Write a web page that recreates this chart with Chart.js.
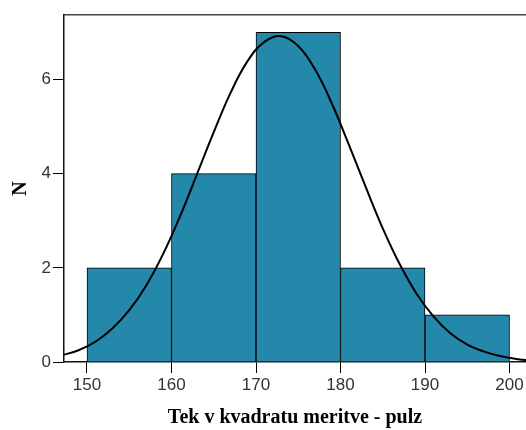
<!DOCTYPE html>
<html><head><meta charset="utf-8">
<script src="https://cdn.jsdelivr.net/npm/chart.js@4/dist/chart.umd.min.js"></script>
<style>html,body{margin:0;padding:0;background:#fff}#wrap{width:526px;height:430px;position:relative}</style>
</head><body><div id="wrap"><canvas id="c" width="526" height="430"></canvas></div>
<script>
// Histogram bins (centre of each 10-unit bin) and counts
const binCenters = [155, 165, 175, 185, 195];
const counts = [2, 4, 7, 2, 1];
// Fitted normal curve
const curveX = [147, 149, 151, 153, 155, 157, 159, 161, 163, 165, 167, 169, 171, 173, 175, 177, 179, 181, 183, 185, 187, 189, 191, 193, 195, 197, 199, 201, 203];
const curveY = [0.14, 0.25, 0.43, 0.71, 1.10, 1.62, 2.29, 3.09, 3.98, 4.88, 5.72, 6.39, 6.80, 6.92, 6.71, 6.21, 5.48, 4.61, 3.71, 2.84, 2.08, 1.45, 0.97, 0.61, 0.37, 0.22, 0.12, 0.06, 0.03];
// Tick labels
const xTickValues = [150, 160, 170, 180, 190, 200];
const yTickValues = [0, 2, 4, 6];
const xTitle = 'Tek v kvadratu meritve - pulz';
const yTitle = 'N';

const tickFont = {family: "'Liberation Sans', Arial, sans-serif", size: 17};
const titleFont = {family: "'Liberation Serif', 'Times New Roman', serif", size: 20, weight: 'bold'};

new Chart(document.getElementById('c'), {
  data: {
    datasets: [
      {
        type: 'line',
        data: curveX.map((x, i) => ({x: x, y: curveY[i]})),
        borderColor: '#000',
        borderWidth: 2,
        pointRadius: 0,
        tension: 0.4,
        fill: false,
        clip: 0,
        order: 0
      },
      {
        type: 'bar',
        data: binCenters.map((x, i) => ({x: x, y: counts[i]})),
        backgroundColor: '#2488AB',
        borderColor: '#000',
        borderWidth: 1,
        barPercentage: 1,
        categoryPercentage: 1,
        order: 1
      }
    ]
  },
  options: {
    responsive: false,
    animation: false,
    devicePixelRatio: 1,
    layout: {padding: {top: 15, right: 0, left: 0, bottom: 0}},
    plugins: {legend: {display: false}, tooltip: {enabled: false}},
    scales: {
      x: {
        type: 'linear',
        position: 'bottom',
        offset: false,
        min: 147.28,
        max: 201.95,
        afterBuildTicks: s => { s.ticks = xTickValues.map(v => ({value: v})); },
        afterFit: s => { s.height = 68; },
        ticks: {font: tickFont, color: '#333', padding: 2, maxRotation: 0, autoSkip: false,
                callback: v => String(v)},
        grid: {display: true, offset: false, drawOnChartArea: false, drawTicks: true, tickLength: 11, color: '#000', lineWidth: 1},
        border: {display: true, color: '#111', width: 1.5},
        title: {display: true, text: xTitle, font: titleFont, color: '#000', padding: {top: 0, bottom: 0}}
      },
      xTop: {
        type: 'linear',
        position: 'top',
        offset: false,
        min: 147.28,
        max: 201.95,
        afterFit: s => { s.height = 0; },
        ticks: {display: false},
        grid: {display: false},
        border: {display: true, color: '#444', width: 1.5}
      },
      y: {
        type: 'linear',
        position: 'left',
        min: 0,
        max: 7.37,
        afterBuildTicks: s => { s.ticks = yTickValues.map(v => ({value: v})); },
        afterFit: s => { s.width = 64; },
        ticks: {font: tickFont, color: '#333', padding: 2, callback: v => String(v)},
        grid: {display: true, drawOnChartArea: false, drawTicks: true, tickLength: 11, color: '#000', lineWidth: 1},
        border: {display: true, color: '#111', width: 1.5},
        title: {display: true, text: yTitle, font: titleFont, color: '#000', padding: {top: 9, bottom: 0}}
      }
    }
  }
});
</script>
</body></html>
